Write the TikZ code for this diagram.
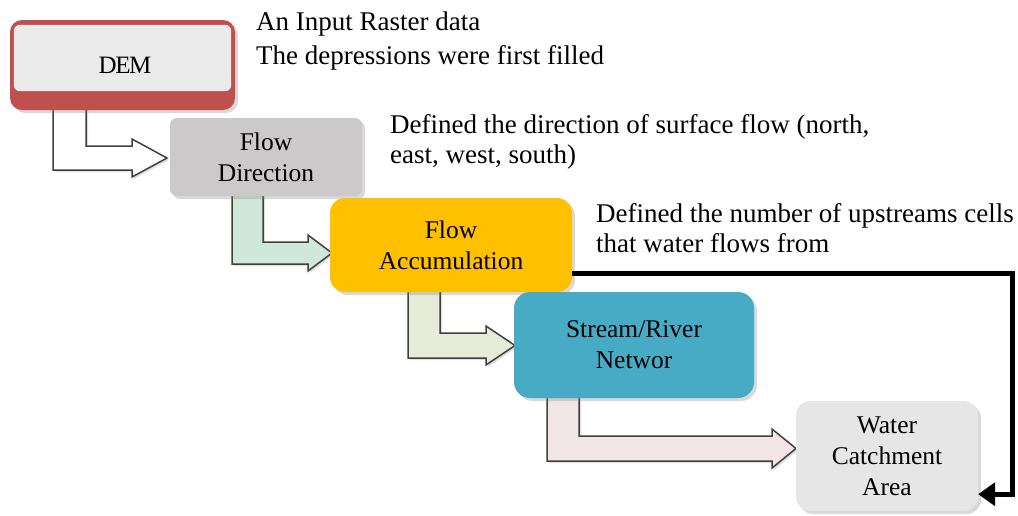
\documentclass[tikz,border=0pt]{standalone}
\usepackage{fontspec}
\setmainfont{Liberation Serif}
\usetikzlibrary{shadows,calc,arrows.meta}
\definecolor{demred}{HTML}{C0504D}
\definecolor{demfill}{HTML}{EBEBEB}
\definecolor{fdfill}{HTML}{CBC9CA}
\definecolor{fafill}{HTML}{FFC000}
\definecolor{srfill}{HTML}{48ABC5}
\definecolor{wcfill}{HTML}{E6E6E6}
\definecolor{arrA}{HTML}{FFFFFF}
\definecolor{arrB}{HTML}{D0E8DA}
\definecolor{arrC}{HTML}{E7EBD9}
\definecolor{arrD}{HTML}{F2E5E5}
\definecolor{arrline}{HTML}{404040}
\tikzset{
  box/.style={rectangle, rounded corners=10pt, minimum width=#1, inner sep=0pt, align=center,
    font=\fontsize{25.5}{31}\selectfont, drop shadow={opacity=0.3, shadow xshift=3pt, shadow yshift=-3pt}},
  note/.style={anchor=north west, align=left, inner sep=0pt, font=\fontsize{27}{30}\selectfont},
  blockarrow/.style={draw=arrline, line width=1.5pt, line join=miter,
    drop shadow={opacity=0.25, shadow xshift=2pt, shadow yshift=-2pt}},
  flowline/.style={line width=5pt, -{Triangle[length=17pt,width=23pt]}}
}
\begin{document}
\begin{tikzpicture}[x=1pt,y=-1pt]
\useasboundingbox (0,0) rectangle (1018,515);
% block arrows
\newcommand{\lbarrow}[9]{%
  \path[blockarrow, fill=#9] (#1,#3) -- (#2,#3) -- (#2,#4) -- (#6,#4) -- (#6,#4-7) -- (#7,{(#4+#5)/2}) -- (#6,#5+7) -- (#6,#5) -- (#1,#5) -- cycle;}
% args: outer x, inner x, top y, inner y, outer y, head base x, tip x, unused, fill
\lbarrow{53}{86}{108}{146}{170}{132}{167}{0}{arrA}
\lbarrow{232}{263}{194}{242}{264}{308}{332}{0}{arrB}
\lbarrow{408}{440}{290}{333}{358}{486}{515}{0}{arrC}
\lbarrow{547}{579}{394}{436}{461}{772}{796}{0}{arrD}
% boxes
\node[box=225pt, minimum height=90pt, fill=demred, rounded corners=12pt] (dem) at (122.5,65) {};
\path[fill=demfill] ($(dem.north west)+(4,5)$) [rounded corners=6pt] rectangle ($(dem.south east)+(-4,-19)$);
\node[font=\fontsize{25}{31}\selectfont] (demt) at (125,65) {D\kern-1.5pt E\kern-1.5pt M};
\node[box=192pt, minimum height=78pt, fill=fdfill, rounded corners=7pt] (fd) at (266,157) {Flow\\Direction};
\node[box=242pt, minimum height=94pt, fill=fafill, rounded corners=15pt] (fa) at (451,245) {Flow\\Accumulation};
\node[box=240pt, minimum height=106pt, fill=srfill, rounded corners=16pt] (sr) at (634,345) {Stream/River\\Networ};
\node[box=182pt, minimum height=110pt, fill=wcfill, rounded corners=14pt] (wc) at (887,456) {Water\\Catchment\\Area};
% notes
\node[note] (n1) at (256,12) {An Input Raster data\\[4pt]The depressions were first filled};
\node[note] (n2) at (390,114) {Defined the direction of surface flow (north,\\east, west, south)};
\node[note] (n3) at (596,203) {Defined the number of upstreams cells\\that water flows from};
% black connector
\coordinate (s) at ($(fa.east)+(0,28)$);
\coordinate (e) at ($(wc.south east)+(0,-17)$);
\coordinate (c1) at (1012,0);
\draw[flowline] (s) -- (s -| c1) -- (e -| c1) -- (e);
\end{tikzpicture}
\end{document}
